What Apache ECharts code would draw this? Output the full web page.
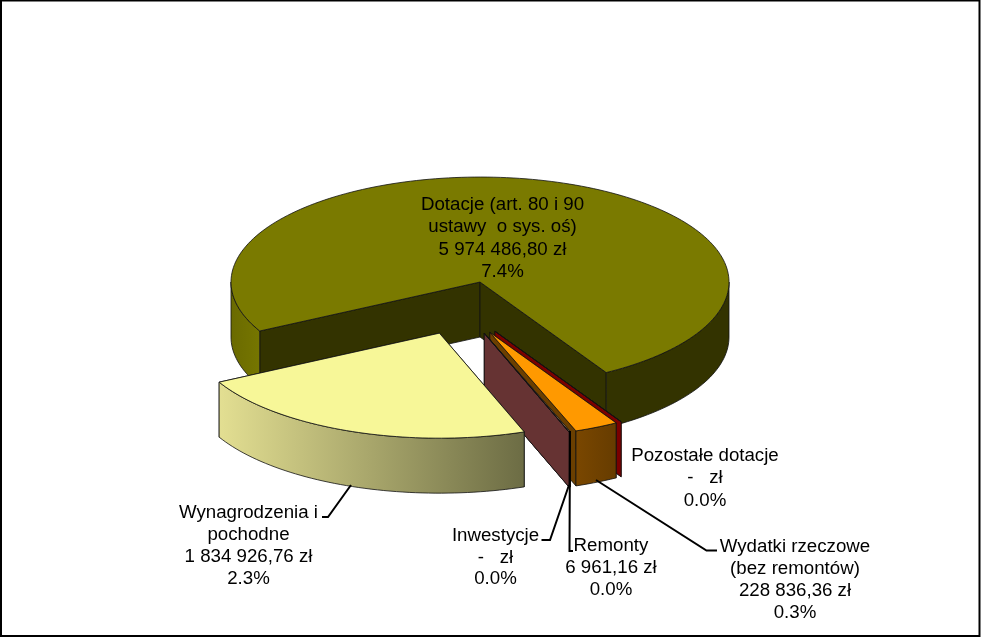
<!DOCTYPE html>
<html><head><meta charset="utf-8">
<style>html,body{margin:0;padding:0;background:#fff}#c{width:981px;height:637px}</style>
<script src="https://cdn.jsdelivr.net/npm/echarts@6/dist/echarts.min.js"></script>
</head><body><div id="c"></div>
<script>
const categories = ['Dotacje (art. 80 i 90 ustawy o sys. oś)','Pozostałe dotacje','Wydatki rzeczowe (bez remontów)','Remonty','Inwestycje','Wynagrodzenia i pochodne'];
const values = [5974486.80, 0, 228836.36, 6961.16, 0, 1834926.76];
const labelLines = [
  ['Dotacje (art. 80 i 90','ustawy  o sys. oś)','5 974 486,80 zł','7.4%'],
  ['Pozostałe dotacje','-   zł','0.0%'],
  ['Wydatki rzeczowe','(bez remontów)','228 836,36 zł','0.3%'],
  ['Remonty','6 961,16 zł','0.0%'],
  ['Inwestycje','-   zł','0.0%'],
  ['Wynagrodzenia i','pochodne','1 834 926,76 zł','2.3%']
];

// styling and layout
const topColors  = ['#7A7A00','#7A0000','#FF9900','#FFCC99','#993333','#F7F798'];
const faceColors = ['#333300','#7A0000','#6B3F00','#663300','#663333','#7A7A4C'];
const wallColors = [
  [['#6A6A00','#767600'],['#333300','#333300']],
  [['#7A0000','#7A0000']],
  [['#7A4700','#663C00']],
  [['#663300','#663300']],
  [['#663333','#663333']],
  [['#E3DF92','#6C6C44']]
];
const CX=462.5, CY=308, RX=249, RY=105, DEPTH=55, EXPLODE=64, START=152.2;
const labelPos = [
  {x:502.5,y:205,lh:22.3},{x:705,y:456,lh:22.3},{x:795,y:547,lh:21.8},{x:611,y:546,lh:22},{x:495.5,y:536,lh:21.5},{x:248.5,y:513,lh:22}
];
const leaders = [
  null,
  null,
  [[717,550.5],[706.5,550.5],[596,480]],
  [[573,551],[569.5,551],[570,431]],
  [[541.5,540],[550,540],[569,485]],
  [[322,517],[328,517],[351,485]]
];

const total = values.reduce((a,b)=>a+b,0);
const angles = []; let acc = START;
values.forEach(v=>{const s=v/total*360; angles.push([acc,acc+s]); acc+=s;});
const rad = d=>d*Math.PI/180;

function arc(cx,cy,a0,a1,dy){
  const n=Math.max(2,Math.ceil(Math.abs(a1-a0)/1.5)), pts=[];
  for(let i=0;i<=n;i++){const t=rad(a0+(a1-a0)*i/n);pts.push([cx+RX*Math.cos(t),cy+RY*Math.sin(t)+dy]);}
  return pts;
}
function wallFill(c){
  if(c[0]===c[1]) return c[0];
  return new echarts.graphic.LinearGradient(0,0,1,0,[{offset:0,color:c[0]},{offset:1,color:c[1]}]);
}
function renderItem(params,api){
  const i=api.value(1);
  const [a0,a1]=angles[i];
  const mid=rad((a0+a1)/2);
  const cx=CX+EXPLODE*Math.cos(mid), cy=CY+EXPLODE*(RY/RX)*Math.sin(mid);
  const line={stroke:'#111',lineWidth:0.8};
  const children=[];
  const rim=a=>{const t=rad(a);return [cx+RX*Math.cos(t),cy+RY*Math.sin(t)];};
  const face=a=>{const r=rim(a);return [[cx,cy],r,[r[0],r[1]+DEPTH],[cx,cy+DEPTH]];};
  // cut faces, then outer wall, then top
  [a0,a1].forEach(a=>{
    children.push({type:'polygon',shape:{points:face(a)},style:Object.assign({fill:faceColors[i]},line)});
  });
  const spans=[];
  [[0,180],[360,540]].forEach(([s,e])=>{const p=Math.max(a0,s),q=Math.min(a1,e);if(q>p)spans.push([p,q]);});
  spans.forEach(([p,q],k)=>{
    const pts=arc(cx,cy,p,q,0).concat(arc(cx,cy,q,p,DEPTH));
    children.push({type:'polygon',shape:{points:pts},style:Object.assign({fill:wallFill(wallColors[i][k])},line)});
  });
  const top=[[cx,cy]].concat(arc(cx,cy,a0,a1,0));
  children.push({type:'polygon',shape:{points:top},style:Object.assign({fill:topColors[i]},line)});
  return {type:'group',children};
}
function overlayItem(params,api){
  const i=api.value(1), children=[];
  if(leaders[i]) children.push({type:'polyline',shape:{points:leaders[i]},style:{fill:'none',stroke:'#000',lineWidth:2}});
  const p=labelPos[i];
  labelLines[i].forEach((t,k)=>children.push({type:'text',style:{text:t,x:p.x,y:p.y+k*p.lh,align:'center',verticalAlign:'middle',fill:'#000',font:'18.7px "Liberation Sans", Arial, sans-serif'}}));
  return {type:'group',children};
}
const data=categories.map((n,i)=>({name:n,value:[values[i],i]}));
const chart=echarts.init(document.getElementById('c'),null,{renderer:'canvas'});
chart.setOption({
  animation:false,
  backgroundColor:'#fff',
  tooltip:{show:false},
  graphic:[{type:'rect',z:100,silent:true,shape:{x:1,y:0.5,width:978.5,height:635.5},style:{fill:'none',stroke:'#000',lineWidth:2}}],
  series:[
    {type:'custom',coordinateSystem:'none',renderItem,data,z:1,silent:true},
    {type:'custom',coordinateSystem:'none',renderItem:overlayItem,data,z:2,silent:true}
  ]
});
</script></body></html>
